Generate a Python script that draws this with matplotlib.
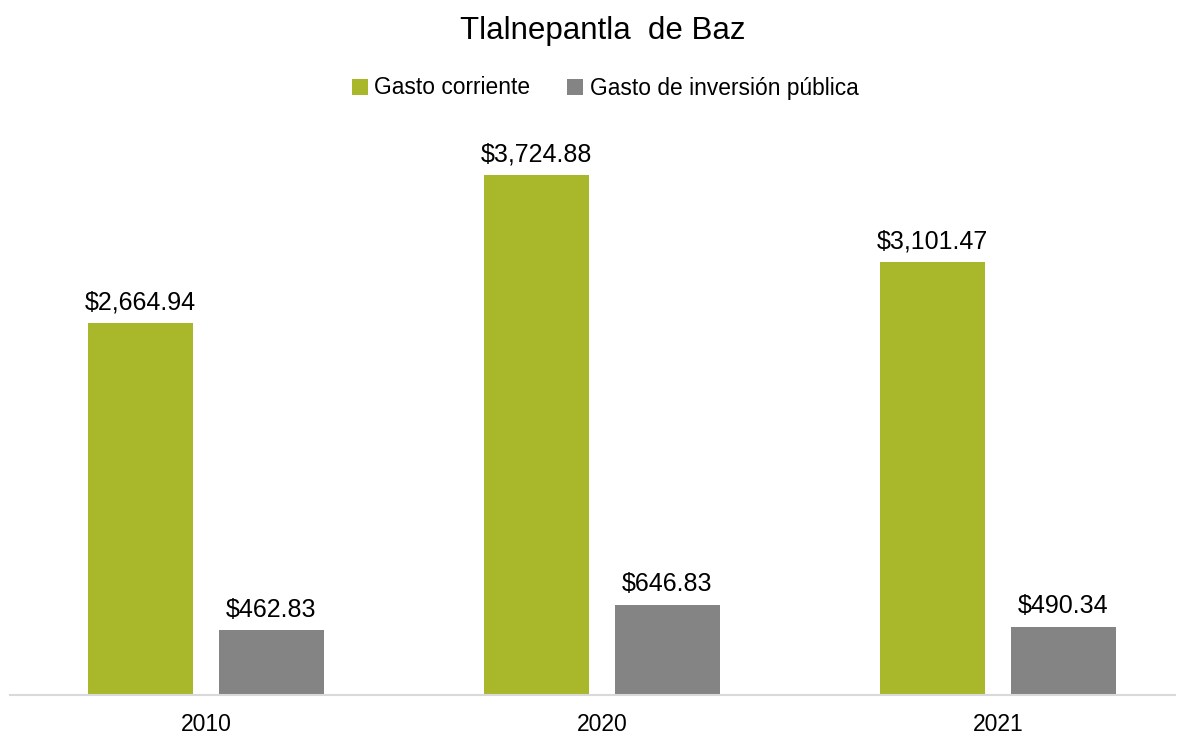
import matplotlib
matplotlib.use("Agg")
import matplotlib.pyplot as plt
import numpy as np

years = ["2010", "2020", "2021"]
gasto_corriente = [2664.94, 3724.88, 3101.47]
gasto_inversion = [462.83, 646.83, 490.34]
series_names = ["Gasto corriente", "Gasto de inversión pública"]

plt.rcParams["font.family"] = ["Liberation Sans", "DejaVu Sans"]

fig = plt.figure(figsize=(11.85, 7.35), dpi=100)
ax = fig.add_axes([10 / 1185, 40 / 735, 1165 / 1185, 558.4 / 735])

x = np.arange(len(years))
w = 0.265
off = 0.165
b1 = ax.bar(x - off, gasto_corriente, w, color="#A8B82A", label=series_names[0])
b2 = ax.bar(x + off, gasto_inversion, w, color="#848484", label=series_names[1])

#data labels
for bars in (b1, b2):
    for r in bars:
        ax.annotate("${:,.2f}".format(r.get_height()),
                    (r.get_x() + r.get_width() / 2, r.get_height()),
                    xytext=(0, 6), textcoords="offset points",
                    ha="center", va="bottom", fontsize=18, color="#000000")

ax.set_xlim(-196 / 396, 969 / 396)
ax.set_ylim(0, 4000)
ax.set_xticks(x)
ax.set_xticklabels(years, fontsize=16.5)
ax.tick_params(axis="x", length=0, pad=13)
ax.set_yticks([])
for s in ["top", "left", "right"]:
    ax.spines[s].set_visible(False)
ax.spines["bottom"].set_color("#D9D9D9")
ax.spines["bottom"].set_linewidth(1.5)

fig.text(603 / 1185, 1 - 31 / 735, "Tlalnepantla  de Baz", ha="center", va="center", fontsize=22.5)
fig.legend(loc="center", bbox_to_anchor=(605 / 1185, 1 - 88 / 735), ncol=2, frameon=False,
           fontsize=16.4, handlelength=0.7, handleheight=0.7, handletextpad=0.3,
           columnspacing=1.6)

fig.savefig("out.png", dpi=100)
